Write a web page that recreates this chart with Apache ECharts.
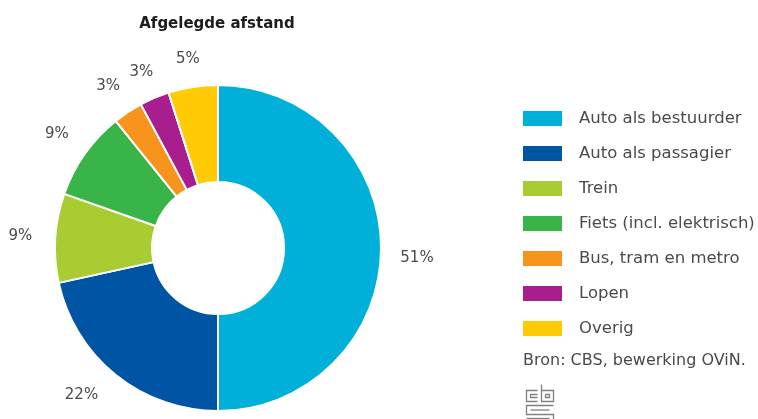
<!DOCTYPE html>
<html>
<head>
<meta charset="utf-8">
<style>html,body{margin:0;padding:0;background:#fff}#chart{width:758px;height:419px}</style>
<script src="https://cdn.jsdelivr.net/npm/echarts@6/dist/echarts.min.js"></script>
</head>
<body>
<div id="chart"></div>
<script>
// Modal split of distance travelled, in percent
const categories = ['Auto als bestuurder', 'Auto als passagier', 'Trein', 'Fiets (incl. elektrisch)', 'Bus, tram en metro', 'Lopen', 'Overig'];
const shares = [51, 22, 9, 9, 3, 3, 5];
const colors = ['#00B0D8', '#0054A4', '#A9CC33', '#38B449', '#F7941E', '#A81E8F', '#FFCB05'];
const titleText = 'Afgelegde afstand';
const sourceText = 'Bron: CBS, bewerking OViN.';
const FONT = '"DejaVu Sans"';
const INK = '#4a4a4a';

// Small per-label nudges so the percentages sit clear of the ring
const labelNudges = [[-3, 10], [-8, -6], [-1, 0], [0, 0], [5, -1], [10, 2], [5, 6]];

// Line drawing of the CBS logo: a "c", a "b" and the "s" below them
const logoLines = [
  [[12,6],[1,6],[1,17],[12,17]], [[12,10],[5,10],[5,13],[12,13]],
  [[16,0],[16,17],[28,17],[28,6],[16,6]], [[20,10],[24,10],[24,13],[20,13],[20,10]],
  [[28,21],[1,21],[1,30],[28,30],[28,37]], [[24,25.5],[5,25.5]], [[1,34],[24,34]]
];

const chart = echarts.init(document.getElementById('chart'), null, { renderer: 'canvas' });
chart.setOption({
  animation: false,
  backgroundColor: '#fff',
  title: {
    text: titleText, left: 212, top: 12, textAlign: 'center',
    textStyle: { fontFamily: FONT, fontWeight: 'bold', fontSize: 15, color: '#1c1c1c' }
  },
  legend: {
    orient: 'vertical', left: 521, top: 109, padding: 0, itemWidth: 41, itemHeight: 17, itemGap: 16,
    icon: 'rect', selectedMode: false,
    textStyle: { fontFamily: FONT, fontSize: 16.5, lineHeight: 17, color: INK, padding: [0, 0, 0, 11] },
    data: categories
  },
  series: [{
    type: 'pie',
    center: [218, 248],
    radius: [66, 163],
    startAngle: 90,
    clockwise: true,
    color: colors,
    itemStyle: { borderColor: '#fff', borderWidth: 2 },
    label: {
      show: true, position: 'outside', formatter: p => p.value + '%', width: 50,
      fontFamily: FONT, fontSize: 15, color: INK
    },
    labelLine: { show: false, length: 34, length2: 0 },
    labelLayout: p => ({
      align: 'center', verticalAlign: 'middle',
      dx: labelNudges[p.dataIndex][0], dy: labelNudges[p.dataIndex][1]
    }),
    data: categories.map((name, i) => ({ name, value: shares[i] }))
  }],
  graphic: [
    { type: 'text', left: 523, top: 353, style: { text: sourceText, font: '16px ' + FONT, fill: INK } },
    {
      type: 'group', left: 524, top: 382,
      children: logoLines.map(points => ({
        type: 'polyline', shape: { points },
        style: { stroke: '#808080', lineWidth: 1.3, fill: null }
      }))
    }
  ]
});
</script>
</body>
</html>
